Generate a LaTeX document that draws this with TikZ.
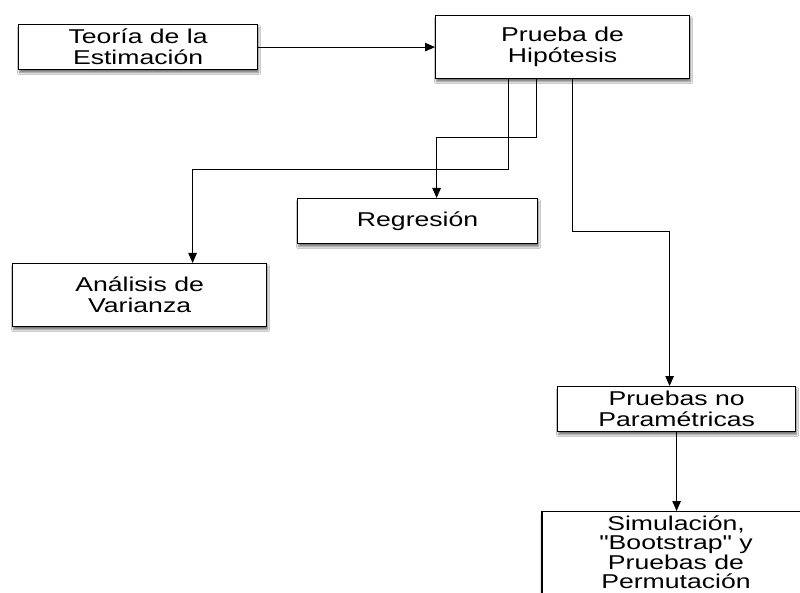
\documentclass[tikz,border=0pt]{standalone}
\usepackage{fontspec}
\setmainfont[FakeStretch=1.33, Ligatures=TeXOff]{Liberation Sans}
\usetikzlibrary{arrows.meta,shadows.blur}
\tikzset{
  box/.style={draw=black, line width=1.2pt, fill=white, rectangle, anchor=north west, inner sep=0pt,
    align=center, font=\fontsize{20}{21}\selectfont,
    blur shadow={shadow xshift=1pt, shadow yshift=-3pt, shadow blur steps=6, shadow opacity=55}},
  arr/.style={draw=black, line width=1pt, -{Triangle[length=10pt,width=8.5pt]}}
}
\begin{document}
\begin{tikzpicture}[x=1pt,y=-1pt]
\useasboundingbox[fill=white] (0,0) rectangle (800,593);
\node[box, minimum width=239pt, minimum height=45pt] (te) at (18,24) {Teoría de la\\Estimación};
\node[box, minimum width=254pt, minimum height=63pt] (pr) at (435,15) {Prueba de\\Hipótesis};
\node[box, minimum width=240pt, minimum height=45pt] (re) at (297,198) {Regresión};
\node[box, minimum width=254pt, minimum height=63pt] (an) at (12,263) {Análisis de\\Varianza};
\node[box, minimum width=238pt, minimum height=45pt] (pn) at (557,386) {Pruebas no\\Paramétricas};
\node[box, anchor=north, minimum width=268pt, inner ysep=4pt, font=\fontsize{20}{19.5}\selectfont] (sim) at (676,511) {Simulación,\\"Bootstrap" y\\Pruebas de\\Permutación\\ \mbox{}};

\draw[arr] (te.east) -- (te.east -| pr.west);
\draw[arr] ([xshift=73pt]pr.south west) -- ([xshift=73pt]pr.south west |- 0,170) -| ([xshift=53pt]an.north);
\draw[arr] ([xshift=101pt]pr.south west) -- ([xshift=101pt]pr.south west |- 0,138) -| ([xshift=19pt]re.north);
\draw[arr] ([xshift=137pt]pr.south west) -- ([xshift=137pt]pr.south west |- 0,232) -| ([xshift=-7pt]pn.north);
\draw[arr] (pn.south) -- (pn.south |- sim.north);
\end{tikzpicture}
\end{document}
